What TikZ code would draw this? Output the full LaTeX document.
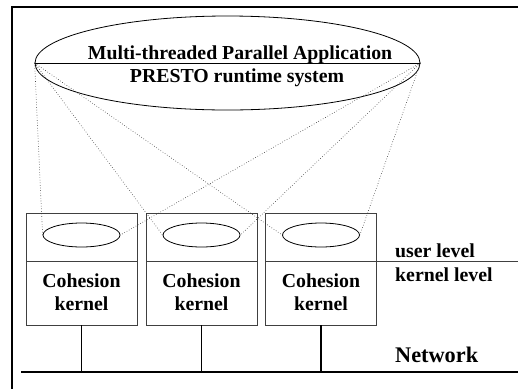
\documentclass[tikz,border=0pt]{standalone}
\usepackage{fontspec}
\setmainfont{Liberation Serif}
\usetikzlibrary{shapes.geometric}
\begin{document}
\begin{tikzpicture}[x=1pt,y=-1pt,
  frame/.style={line width=1.4pt},
  bigoval/.style={ellipse,draw,line width=0.8pt,minimum width=385pt,minimum height=94pt,inner sep=0pt},
  smalloval/.style={ellipse,draw,line width=0.8pt,minimum width=77pt,minimum height=24pt,inner sep=0pt},
  kbox/.style={rectangle,draw=black!75,line width=0.8pt,minimum width=111pt,minimum height=112pt,inner sep=0pt},
  bold/.style={font=\fontsize{19.8}{23}\selectfont\bfseries,inner sep=0pt,anchor=base},
  lvl/.style={bold,anchor=base west},
  link/.style={dotted,line width=0.6pt,black!80},
  wire/.style={line width=1.8pt}]
\useasboundingbox (0,0) rectangle (518,389);
% outer frame
\coordinate (fTL) at (12,7);
\coordinate (fTR) at (518,7);
\coordinate (fBL) at (12,389);
\draw[frame] (fTR) -- (fTL) -- (fBL);

% application / runtime oval
\node[bigoval] (app) at (227.5,63) {};
\draw[line width=0.8pt] (app.west) -- (app.east);
\node[bold] (apptxt) at (240,59) {Multi-threaded Parallel Application};
\node[bold] (rttxt) at (237,82) {PRESTO runtime system};

% kernel boxes
\foreach \i/\x in {1/81.5,2/201.5,3/321}{
  \node[kbox] (b\i) at (\x,269) {};
  \coordinate (d\i L) at (\x-111/2,261);
  \coordinate (d\i R) at (\x+111/2,261);
  \draw[black!75,line width=0.8pt] (d\i L) -- (d\i R);
  \node[smalloval] (o\i) at (\x,235) {};
  \node[bold] (ka\i) at (\x,287) {Cohesion};
  \node[bold] (kb\i) at (\x,310) {kernel};
}

% user/kernel boundary
\coordinate (uR) at (518,261);
\draw[black!75,line width=0.8pt] (d3R) -- (uR);
\node[lvl] (ul) at (395,257) {user level};
\node[lvl] (kl) at (395,281) {kernel level};

% network
\coordinate (nL) at (21,372);
\coordinate (nR) at (518,372);
\draw[wire] (nL) -- (nR);
\foreach \i in {1,2,3}{
  \draw[wire] (b\i.south) -- (b\i.south |- nL);
}
\node[font=\fontsize{22.3}{25}\selectfont\bfseries,anchor=base west,inner sep=0pt] (net) at (395,362) {Network};

% thread mapping links
\foreach \i in {1,2,3}{
  \draw[link] (app.west) -- (o\i.west);
  \draw[link] (app.east) -- (o\i.east);
}
\end{tikzpicture}
\end{document}
